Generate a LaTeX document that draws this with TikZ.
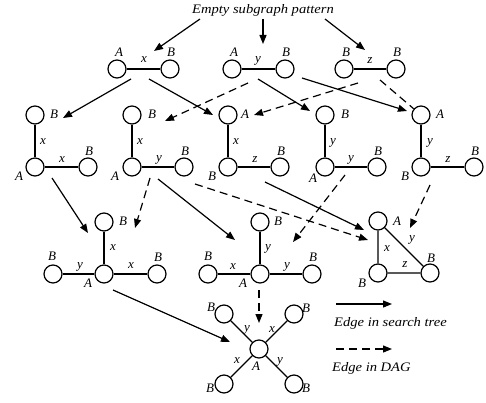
\documentclass[tikz,border=0pt]{standalone}
\usepackage{fontspec}
\setmainfont{Liberation Serif}
\usetikzlibrary{arrows.meta}
\newcommand{\wide}[1]{\scalebox{1.12}[1]{#1}}
\begin{document}
\begin{tikzpicture}[x=1pt,y=-1pt,
 vtx/.style={circle,draw,line width=1.2pt,minimum size=18pt,inner sep=0pt,fill=white},
 lbl/.style={inner sep=0pt,font=\fontsize{13}{15}\selectfont\itshape},
 edg/.style={line width=1.2pt},
 tree/.style={line width=1.2pt,-{Triangle[length=9pt,width=7pt]}},
 dag/.style={tree,dash pattern=on 8pt off 5pt},
 dagnt/.style={line width=1.2pt,dash pattern=on 8pt off 5pt},
]
\useasboundingbox (0,0) rectangle (486,403);
% title
\node[lbl] (title) at (263,10) {\wide{Empty subgraph pattern}};
% ---------- row 1
\node[vtx] (p1a) at (117,69) {}; \node[vtx] (p1b) at (170,69) {};
\draw[edg] (p1a) -- (p1b);
\node[lbl] (p1la) at (119,52) {A}; \node[lbl] (p1lb) at (171,52) {B}; \node[lbl] (p1lx) at (144,60) {x};
\node[vtx] (p2a) at (232,69) {}; \node[vtx] (p2b) at (285,69) {};
\draw[edg] (p2a) -- (p2b);
\node[lbl] (p2la) at (234,52) {A}; \node[lbl] (p2lb) at (286,52) {B}; \node[lbl] (p2ly) at (258,61) {y};
\node[vtx] (p3a) at (344,69) {}; \node[vtx] (p3b) at (396,69) {};
\draw[edg] (p3a) -- (p3b);
\node[lbl] (p3la) at (346,52) {B}; \node[lbl] (p3lb) at (397,52) {B}; \node[lbl] (p3lz) at (370,61) {z};
% ---------- row 2
% 2-1
\node[vtx] (q1t) at (35,115) {}; \node[vtx] (q1c) at (35,167) {}; \node[vtx] (q1r) at (88,167) {};
\draw[edg] (q1t) -- (q1c) -- (q1r);
\node[lbl] (q1lt) at (54,114) {B}; \node[lbl] (q1lx1) at (43,142) {x}; \node[lbl] (q1lx2) at (62,160) {x};
\node[lbl] (q1lr) at (89,151) {B}; \node[lbl] (q1lc) at (19,176) {A};
% 2-2
\node[vtx] (q2t) at (132,115) {}; \node[vtx] (q2c) at (132,167) {}; \node[vtx] (q2r) at (184,167) {};
\draw[edg] (q2t) -- (q2c) -- (q2r);
\node[lbl] (q2lt) at (152,114) {B}; \node[lbl] (q2lx) at (140,142) {x}; \node[lbl] (q2ly) at (159,160) {y};
\node[lbl] (q2lr) at (185,151) {B}; \node[lbl] (q2lc) at (115,176) {A};
% 2-3
\node[vtx] (q3t) at (228,115) {}; \node[vtx] (q3c) at (228,167) {}; \node[vtx] (q3r) at (280,167) {};
\draw[edg] (q3t) -- (q3c) -- (q3r);
\node[lbl] (q3lt) at (245,114) {A}; \node[lbl] (q3lx) at (236,142) {x}; \node[lbl] (q3lz) at (255,160) {z};
\node[lbl] (q3lr) at (281,151) {B}; \node[lbl] (q3lc) at (212,176) {B};
% 2-4
\node[vtx] (q4t) at (325,115) {}; \node[vtx] (q4c) at (325,167) {}; \node[vtx] (q4r) at (377,167) {};
\draw[edg] (q4t) -- (q4c) -- (q4r);
\node[lbl] (q4lt) at (345,114) {B}; \node[lbl] (q4ly1) at (333,143) {y}; \node[lbl] (q4ly2) at (351,160) {y};
\node[lbl] (q4lr) at (378,151) {B}; \node[lbl] (q4lc) at (313,178) {A};
% 2-5
\node[vtx] (q5t) at (421,115) {}; \node[vtx] (q5c) at (421,167) {}; \node[vtx] (q5r) at (474,167) {};
\draw[edg] (q5t) -- (q5c) -- (q5r);
\node[lbl] (q5lt) at (440,114) {A}; \node[lbl] (q5ly) at (430,143) {y}; \node[lbl] (q5lz) at (448,160) {z};
\node[lbl] (q5lr) at (475,151) {B}; \node[lbl] (q5lc) at (405,176) {B};
% ---------- row 3
% 3-1
\node[vtx] (r1t) at (104,222) {}; \node[vtx] (r1c) at (104,274) {};
\node[vtx] (r1l) at (53,274) {}; \node[vtx] (r1r) at (157,274) {};
\draw[edg] (r1t) -- (r1c); \draw[edg] (r1l) -- (r1c) -- (r1r);
\node[lbl] (r1lt) at (123,221) {B}; \node[lbl] (r1lx1) at (113,248) {x};
\node[lbl] (r1ll) at (52,256) {B}; \node[lbl] (r1ly) at (80,267) {y};
\node[lbl] (r1lc) at (88,283) {A}; \node[lbl] (r1lx2) at (131,266) {x};
\node[lbl] (r1lr) at (158,257) {B};
% 3-2
\node[vtx] (r2t) at (260,222) {}; \node[vtx] (r2c) at (260,274) {};
\node[vtx] (r2l) at (208,274) {}; \node[vtx] (r2r) at (312,274) {};
\draw[edg] (r2t) -- (r2c); \draw[edg] (r2l) -- (r2c) -- (r2r);
\node[lbl] (r2lt) at (278,221) {B}; \node[lbl] (r2ly1) at (268,249) {y};
\node[lbl] (r2ll) at (208,256) {B}; \node[lbl] (r2lx) at (233,267) {x};
\node[lbl] (r2lc) at (243,283) {A}; \node[lbl] (r2ly2) at (287,267) {y};
\node[lbl] (r2lr) at (313,257) {B};
% 3-3
\node[vtx] (r3t) at (378,221) {}; \node[vtx] (r3c) at (378,273) {}; \node[vtx] (r3r) at (430,273) {};
\draw[edg] (r3t) -- (r3c) -- (r3r) -- (r3t);
\node[lbl] (r3lt) at (397,221) {A}; \node[lbl] (r3lx) at (387,249) {x}; \node[lbl] (r3ly) at (412,240) {y};
\node[lbl] (r3lr) at (431,258) {B}; \node[lbl] (r3lz) at (405,265) {z}; \node[lbl] (r3lc) at (362,283) {B};
% ---------- row 4
\node[vtx] (sc) at (259,349) {};
\node[vtx] (stl) at (224,314) {}; \node[vtx] (str) at (294,314) {};
\node[vtx] (sbl) at (224,384) {}; \node[vtx] (sbr) at (294,384) {};
\draw[edg] (stl) -- (sc) -- (sbr); \draw[edg] (str) -- (sc) -- (sbl);
\node[lbl] (sltl) at (211,307) {B}; \node[lbl] (sltr) at (306,308) {B};
\node[lbl] (slbl) at (210,388) {B}; \node[lbl] (slbr) at (306,388) {B};
\node[lbl] (sly1) at (247,330) {y}; \node[lbl] (slx1) at (272,330) {x};
\node[lbl] (slx2) at (237,361) {x}; \node[lbl] (slc) at (256,366) {A};
\node[lbl] (sly2) at (280,362) {y};
% ---------- arrow end points
\coordinate (a1s) at (200,19);  \coordinate (a1e) at (154,51);
\coordinate (a2s) at (263,19);  \coordinate (a2e) at (263,44);
\coordinate (a3s) at (325,19);  \coordinate (a3e) at (365,50);
\coordinate (a4s) at (131,79);  \coordinate (a4e) at (63,118);
\coordinate (a5s) at (149,79);  \coordinate (a5e) at (213,115);
\coordinate (a6s) at (258,79);  \coordinate (a6e) at (310,111);
\coordinate (a7s) at (302,78);  \coordinate (a7e) at (407,111);
\coordinate (a8s) at (52,178);  \coordinate (a8e) at (88,233);
\coordinate (a9s) at (158,179); \coordinate (a9e) at (235,240);
\coordinate (a10s) at (265,182); \coordinate (a10e) at (364,230);
\coordinate (a11s) at (113,290); \coordinate (a11e) at (230,342);
\coordinate (d1s) at (248,83);  \coordinate (d1e) at (165,121);
\coordinate (d2s) at (358,83);  \coordinate (d2e) at (254,115);
\coordinate (d3s) at (380,80);
\coordinate (d4s) at (150,178); \coordinate (d4e) at (135,228);
\coordinate (d5s) at (195,184); \coordinate (d5e) at (368,240);
\coordinate (d6s) at (345,175); \coordinate (d6e) at (293,242);
\coordinate (d7s) at (430,185); \coordinate (d7e) at (410,228);
\coordinate (d8s) at (259,290); \coordinate (d8e) at (259,323);
\coordinate (ls1) at (336,304); \coordinate (le1) at (392,304);
\coordinate (ls2) at (336,349); \coordinate (le2) at (392,349);
% ---------- arrows
\draw[tree] (a1s) -- (a1e);
\draw[tree] (a2s) -- (a2e);
\draw[tree] (a3s) -- (a3e);
\draw[tree] (a4s) -- (a4e);
\draw[tree] (a5s) -- (a5e);
\draw[tree] (a6s) -- (a6e);
\draw[tree] (a7s) -- (a7e);
\draw[tree] (a8s) -- (a8e);
\draw[tree] (a9s) -- (a9e);
\draw[tree] (a10s) -- (a10e);
\draw[tree] (a11s) -- (a11e);
\draw[dag] (d1s) -- (d1e);
\draw[dag] (d2s) -- (d2e);
\draw[dagnt] (d3s) -- (q5t);
\draw[dag] (d4s) -- (d4e);
\draw[dag] (d5s) -- (d5e);
\draw[dag] (d6s) -- (d6e);
\draw[dag] (d7s) -- (d7e);
\draw[dag] (d8s) -- (d8e);
% ---------- legend
\draw[tree] (ls1) -- (le1);
\draw[dag] (ls2) -- (le2);
\node[lbl,anchor=west] (leg1) at (334,323) {\wide{Edge in search tree}};
\node[lbl,anchor=west] (leg2) at (332,368) {\wide{Edge in DAG}};
\end{tikzpicture}
\end{document}
